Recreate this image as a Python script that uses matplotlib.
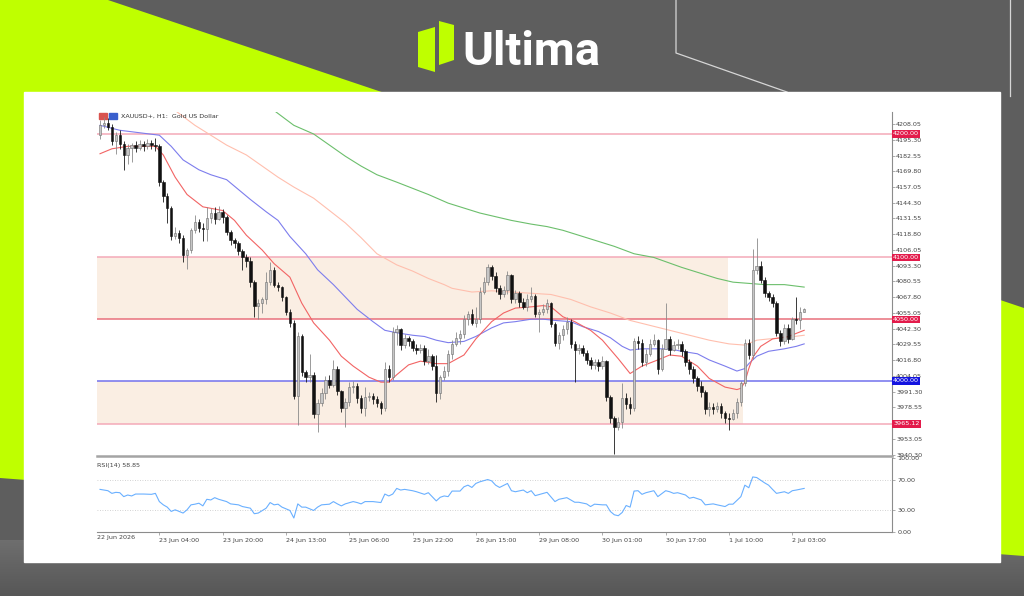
import numpy as np
import matplotlib
matplotlib.use("Agg")
import matplotlib.pyplot as plt
from matplotlib.patches import Polygon, Rectangle
from matplotlib.colors import LinearSegmentedColormap

W, H = 1024, 596

# ---- XAUUSD+ H1 candles ----
first_open = 4199
close = [
    4207, 4209, 4206, 4194, 4199, 4192, 4183, 4189, 4191, 4189,
    4192, 4190, 4193, 4191, 4190, 4161, 4150, 4140, 4117, 4120,
    4116, 4102, 4106, 4122, 4129, 4124, 4123, 4132, 4136, 4131,
    4137, 4133, 4121, 4114, 4112, 4105, 4100, 4097, 4080, 4061,
    4063, 4066, 4080, 4090, 4078, 4076, 4068, 4056, 4047, 3988,
    4036, 4007, 4003, 4005, 3973, 3982, 3990, 4001, 3997, 4010,
    3992, 3978, 3983, 3995, 3996, 3986, 3978, 3987, 3988, 3985,
    3982, 3978, 4010, 4003, 4040, 4042, 4029, 4035, 4032, 4027,
    4025, 4027, 4016, 4020, 4012, 3990, 4003, 4008, 4022, 4030,
    4035, 4038, 4050, 4054, 4047, 4050, 4072, 4080, 4092, 4085,
    4075, 4070, 4074, 4086, 4066, 4071, 4064, 4060, 4066, 4069,
    4054, 4056, 4058, 4063, 4046, 4031, 4037, 4042, 4048, 4030,
    4025, 4027, 4023, 4017, 4013, 4015, 4012, 4016, 3987, 3970,
    3963, 3967, 3986, 3981, 3978, 4032, 4031, 4015, 4022, 4030,
    4033, 4010, 4026, 4034, 4025, 4029, 4030, 4024, 4015, 4010,
    4002, 3996, 3991, 3977, 3979, 3977, 3980, 3974, 3970, 3969,
    3974, 3983, 3998, 4031, 4021, 4090, 4093, 4082, 4071, 4068,
    4063, 4039, 4032, 4043, 4034, 4050, 4049, 4056, 4058,
]
high = [
    4211, 4214, 4213, 4208, 4202, 4203, 4194, 4192, 4193, 4194,
    4195, 4194, 4196, 4195, 4197, 4192, 4163, 4152, 4142, 4125,
    4122, 4118, 4108, 4124, 4134, 4131, 4128, 4141, 4140, 4141,
    4142, 4139, 4134, 4122, 4116, 4113, 4107, 4103, 4100, 4082,
    4066, 4068, 4088, 4096, 4092, 4080, 4077, 4069, 4058, 4049,
    4040, 4038, 4009, 4022, 4007, 3985, 3994, 4004, 4005, 4017,
    4012, 3993, 3986, 3999, 4000, 3998, 3989, 3995, 3991, 3990,
    3988, 3984, 4015, 4013, 4044, 4045, 4043, 4038, 4036, 4034,
    4030, 4030, 4029, 4026, 4022, 4021, 4005, 4012, 4025, 4033,
    4040, 4041, 4053, 4057, 4058, 4060, 4076, 4084, 4095, 4094,
    4088, 4078, 4077, 4089, 4087, 4074, 4073, 4067, 4070, 4076,
    4070, 4058, 4062, 4066, 4064, 4048, 4040, 4045, 4052, 4050,
    4032, 4030, 4029, 4025, 4019, 4018, 4018, 4020, 4017, 3989,
    3972, 3971, 3998, 3990, 3987, 4035, 4036, 4034, 4026, 4034,
    4038, 4034, 4030, 4063, 4036, 4032, 4034, 4032, 4026, 4018,
    4012, 4004, 4000, 3993, 3983, 3982, 3983, 3982, 3976, 3974,
    3977, 3986, 4000, 4034, 4034, 4107, 4116, 4097, 4084, 4073,
    4070, 4065, 4041, 4046, 4046, 4052, 4068, 4060, 4059,
]
low = [
    4196, 4205, 4203, 4191, 4184, 4188, 4171, 4176, 4177, 4185,
    4187, 4186, 4188, 4188, 4186, 4158, 4145, 4128, 4114, 4115,
    4112, 4096, 4091, 4104, 4120, 4121, 4113, 4113, 4128, 4127,
    4130, 4128, 4118, 4110, 4108, 4102, 4090, 4092, 4076, 4052,
    4050, 4055, 4062, 4078, 4076, 4073, 4065, 4053, 4044, 3985,
    3964, 4004, 3999, 3999, 3970, 3959, 3980, 3985, 3994, 3995,
    3989, 3975, 3963, 3980, 3990, 3982, 3974, 3972, 3984, 3981,
    3979, 3973, 3976, 3999, 4001, 4029, 4025, 4027, 4028, 4024,
    4022, 4023, 4013, 4014, 4009, 3983, 3985, 4001, 4004, 4018,
    4028, 4030, 4035, 4045, 4045, 4044, 4047, 4070, 4078, 4082,
    4072, 4066, 4068, 4070, 4063, 4063, 4060, 4058, 4057, 4064,
    4052, 4040, 4053, 4055, 4044, 4028, 4026, 4033, 4038, 4027,
    3999, 4022, 4020, 4014, 4010, 4010, 4008, 4010, 3984, 3966,
    3941, 3960, 3962, 3977, 3973, 3976, 4026, 4012, 4012, 4020,
    4028, 4006, 4008, 4026, 4021, 4024, 4026, 4020, 4012, 4006,
    3998, 3992, 3987, 3973, 3972, 3973, 3975, 3970, 3966, 3960,
    3968, 3970, 3980, 3996, 4018, 4018, 4087, 4079, 4068, 4065,
    4060, 4036, 4028, 4030, 4031, 4033, 4046, 4042, 4056,
]

# moving averages (bar index, price)
ma_red_x = [0, 3, 7, 14, 16, 19, 22, 26, 31, 34, 37, 41, 44, 48, 51, 54, 58, 61, 64, 68,
            71, 73, 75, 78, 81, 85, 88, 92, 95, 99, 102, 105, 109, 112, 114, 117, 120, 124,
            127, 131, 134, 137, 141, 144, 147, 151, 154, 158, 161, 162, 163, 164, 165, 167,
            170, 174, 178]
ma_red_y = [4184, 4188, 4190, 4190, 4183, 4165, 4151, 4141, 4138, 4130, 4118, 4106, 4095, 4084,
            4063, 4047, 4033, 4020, 4012, 4003, 3999, 3999, 4005, 4013, 4016, 4014, 4014, 4021,
            4034, 4048, 4055, 4059, 4060, 4061, 4060, 4052, 4048, 4041, 4033, 4018, 4006, 4012,
            4017, 4021, 4020, 4012, 4002, 3995, 3993, 3994, 3999, 4010, 4019, 4028, 4034, 4036,
            4041]
ma_blue_x = [0, 5, 10, 15, 18, 21, 25, 28, 32, 35, 38, 42, 45, 48, 52, 55, 59, 62, 65, 69, 72,
             75, 79, 82, 85, 88, 92, 95, 99, 102, 105, 109, 112, 115, 119, 122, 126, 129, 132,
             134, 137, 141, 144, 147, 151, 154, 158, 161, 163, 164, 166, 169, 173, 176, 178]
ma_blue_y = [4207, 4203, 4201, 4199, 4190, 4179, 4171, 4167, 4163, 4155, 4147, 4137, 4130, 4117,
             4103, 4090, 4078, 4068, 4058, 4048, 4041, 4039, 4037, 4036, 4033, 4031, 4032, 4036,
             4043, 4047, 4048, 4050, 4050, 4049, 4048, 4044, 4040, 4035, 4028, 4025, 4026, 4026,
             4026, 4024, 4022, 4017, 4012, 4008, 4010, 4014, 4020, 4024, 4026, 4028, 4030]
ma_salmon_x = [19, 24, 28, 32, 37, 41, 45, 49, 54, 58, 62, 66, 70, 75, 79, 83, 87, 89, 94, 99,
               104, 109, 114, 119, 124, 129, 134, 139, 144, 149, 154, 159, 163, 166, 169, 173, 178]
ma_salmon_y = [4219, 4207, 4199, 4191, 4183, 4174, 4165, 4157, 4148, 4138, 4128, 4116, 4103, 4094,
               4089, 4083, 4078, 4075, 4072, 4073, 4072, 4071, 4070, 4066, 4060, 4055, 4049, 4045,
               4041, 4037, 4033, 4030, 4029, 4033, 4034, 4035, 4037]
ma_green_x = [44, 49, 54, 58, 62, 66, 70, 75, 79, 83, 88, 92, 96, 100, 104, 109, 113, 117, 121,
              126, 130, 135, 140, 147, 152, 156, 160, 164, 168, 173, 178]
ma_green_y = [4219, 4207, 4200, 4191, 4182, 4174, 4167, 4161, 4156, 4151, 4144, 4140, 4136, 4133,
              4130, 4127, 4125, 4122, 4118, 4113, 4109, 4103, 4100, 4092, 4087, 4083, 4080, 4079,
              4078, 4078, 4076]

# RSI(14)
rsi_x = [0, 1, 2, 3, 4, 5, 6, 7, 8, 9, 11, 13, 14, 15, 16, 17, 18, 19, 20, 21, 22, 23, 24, 25,
         26, 27, 28, 29, 30, 32, 33, 35, 36, 38, 39, 40, 42, 43, 44, 45, 46, 48, 49, 50, 51, 52,
         54, 55, 56, 58, 59, 60, 61, 62, 64, 65, 66, 67, 69, 71, 72, 73, 74, 75, 76, 77, 79, 80,
         82, 83, 85, 86, 87, 88, 89, 91, 92, 93, 94, 95, 96, 98, 99, 100, 101, 103, 104, 105,
         107, 108, 109, 110, 112, 113, 115, 116, 118, 120, 121, 123, 124, 125, 127, 128, 129,
         130, 131, 132, 133, 134, 135, 136, 137, 138, 140, 141, 143, 144, 145, 146, 148, 149,
         150, 152, 153, 155, 156, 158, 159, 160, 162, 163, 164, 165, 166, 168, 169, 170, 171,
         173, 174, 175, 176, 178]
rsi_y = [57.6, 56.7, 55.8, 52.2, 53.6, 53.1, 47.8, 50.0, 48.7, 51.3, 51.3, 50.9, 52.2, 41.1,
         36.7, 33.6, 27.8, 30.0, 27.8, 25.6, 30.0, 36.7, 37.6, 38.9, 35.3, 44.2, 43.3, 46.4,
         44.2, 41.1, 38.0, 36.7, 34.4, 32.2, 24.7, 25.6, 32.2, 39.8, 36.7, 37.6, 33.6, 29.1,
         18.9, 38.0, 33.6, 33.6, 29.1, 33.6, 36.7, 37.6, 41.1, 38.0, 35.3, 38.0, 41.1, 39.8,
         38.0, 41.1, 41.1, 39.8, 51.3, 48.7, 51.3, 58.9, 56.7, 57.6, 55.8, 54.4, 50.9, 53.1,
         42.0, 46.9, 48.7, 47.8, 55.3, 55.3, 61.1, 63.3, 60.2, 65.6, 67.8, 70.9, 69.1, 63.3,
         60.2, 65.6, 55.8, 54.4, 56.7, 53.1, 55.8, 49.1, 52.2, 53.6, 41.1, 44.2, 46.4, 40.2,
         40.2, 38.0, 34.4, 37.6, 36.7, 36.7, 27.8, 23.3, 22.0, 26.4, 35.8, 33.6, 55.3, 55.8,
         50.9, 53.1, 55.8, 47.8, 55.8, 54.4, 52.2, 53.1, 50.0, 45.6, 46.9, 43.3, 36.7, 38.0,
         36.7, 34.4, 37.6, 37.6, 47.8, 63.3, 59.8, 74.4, 73.6, 66.4, 63.3, 57.6, 52.2, 54.4,
         52.2, 55.8, 56.7, 58.9]

levels = [4200.00, 4100.00, 4050.00, 4000.00, 3965.12]
zones = [(4050.00, 4100.00, 158.7), (3965.12, 4000.00, 162.5)]   # low, high, right end (bar)
price_ticks = [4208.05 - 12.75 * k for k in range(22)]
date_bars = [15, 31, 47, 63, 79, 95, 111, 127, 143, 159, 175]
date_labels = ["23 Jun 04:00", "23 Jun 20:00", "24 Jun 13:00", "25 Jun 06:00", "25 Jun 22:00",
               "26 Jun 15:00", "29 Jun 08:00", "30 Jun 01:00", "30 Jun 17:00", "1 Jul 10:00",
               "2 Jul 03:00"]


def box(l, t, r, b):
    return [l / W, 1 - b / H, (r - l) / W, (b - t) / H]


fig = plt.figure(figsize=(W / 100, H / 100), dpi=100)

# ---- banner background ----
bg = fig.add_axes([0, 0, 1, 1])
bg.set_xlim(0, W)
bg.set_ylim(H, 0)
bg.axis("off")
bg.add_patch(Rectangle((0, 0), W, H, color="#5e5e5e", zorder=0))
shade = LinearSegmentedColormap.from_list("shade", ["#6e6e6e", "#575757"])
bg.imshow(np.linspace(0, 1, 40).reshape(-1, 1), extent=(0, W, H, 540), cmap=shade,
          aspect="auto", zorder=0.5)
bg.add_patch(Polygon([(0, 0), (108, 0), (1024, 308), (1024, 556), (0, 478)],
                     closed=True, color="#bfff00", lw=0, zorder=1))
bg.plot([676, 676, 787], [0, 53, 92], color="#d6d6d6", lw=0.9, zorder=2)
bg.plot([1010, 1010], [0, 96], color="#d6d6d6", lw=0.9, zorder=2)
bg.add_patch(Rectangle((24, 92), 976, 470, color="white", zorder=3))

# logo
bg.add_patch(Polygon([(418, 32), (435, 27), (435, 72), (418, 67)], closed=True,
                     color="#bfff00", lw=0, zorder=4))
bg.add_patch(Polygon([(439, 21), (454, 25), (454, 60), (439, 65)], closed=True,
                     color="#bfff00", lw=0, zorder=4))
bg.text(462, 65, "Ultima", color="white", fontsize=34, fontweight="bold",
        family="Roboto", ha="left", va="baseline", zorder=4)

# ---- price panel ----
ax = fig.add_axes(box(97, 112, 892, 456))
ax.set_xlim(-0.76, 200.2)
ax.set_ylim(3939.2, 4217.8)
ax.set_facecolor("none")

x = np.arange(len(close))
c = np.array(close, dtype=float)
o = np.r_[first_open, c[:-1]]
hi = np.maximum(np.array(high, dtype=float), np.maximum(o, c))
lo = np.minimum(np.array(low, dtype=float), np.minimum(o, c))
up = c >= o

for lv_low, lv_high, x_end in zones:
    ax.fill_between([-0.76, x_end], lv_low, lv_high, color="#faeee3", lw=0, zorder=1)

level_cols = ["#f4a9b8", "#f4a9b8", "#e8707c", "#7272ee", "#f4a9b8"]
label_cols = ["#e31b4b", "#e31b4b", "#e31b4b", "#1414e0", "#e31b4b"]
for lv, lc in zip(levels, level_cols):
    ax.axhline(lv, color=lc, lw=1.1, zorder=1.5)

ax.plot(ma_green_x, ma_green_y, color="#6cbf6c", lw=0.8, zorder=2)
ax.plot(ma_salmon_x, ma_salmon_y, color="#ffbfae", lw=0.8, zorder=2)
ax.plot(ma_blue_x, ma_blue_y, color="#7d7ded", lw=0.8, zorder=2)
ax.plot(ma_red_x, ma_red_y, color="#f26464", lw=0.8, zorder=2)

ax.vlines(x[up], lo[up], hi[up], color="#8a8a8a", lw=0.6, zorder=3)
ax.vlines(x[~up], lo[~up], hi[~up], color="#1a1a1a", lw=0.6, zorder=3)
body_lo = np.minimum(o, c)
body_h = np.maximum(np.abs(c - o), 0.7)
ax.bar(x[up], body_h[up], bottom=body_lo[up], width=0.62, color="#c6c6c6",
       edgecolor="#6e6e6e", lw=0.4, zorder=4)
ax.bar(x[~up], body_h[~up], bottom=body_lo[~up], width=0.62, color="#111111",
       edgecolor="#111111", lw=0.4, zorder=4)

for s in ["left", "top"]:
    ax.spines[s].set_visible(False)
ax.spines["right"].set_color("#8c8c8c")
ax.spines["right"].set_linewidth(0.8)
ax.spines["bottom"].set_color("#a4a4a4")
ax.spines["bottom"].set_linewidth(1.8)
ax.set_xticks([])
ax.yaxis.tick_right()
ax.set_yticks(price_ticks)
# the 3965.80 label sits fully under the 3965.12 marker box, so leave it blank
tick_text = [f"{v:.2f}" for v in price_ticks]
tick_text[19] = ""
ax.set_yticklabels(tick_text)
ax.tick_params(axis="y", direction="out", length=2, width=0.5, pad=1,
               labelsize=4.6, colors="#8c8c8c", labelcolor="#444444")

ytr = ax.get_yaxis_transform()
for lv, bc in zip(levels, label_cols):
    ax.text(1.0015, lv, f"{lv:.2f}", transform=ytr, ha="left", va="center", fontsize=4.6,
            color="white", clip_on=False, zorder=10,
            bbox=dict(boxstyle="square,pad=0.18", fc=bc, ec="none"))

fig.text(121 / W, 1 - 116 / H, "XAUUSD+, H1:  Gold US Dollar", fontsize=4.6,
         color="#333333", va="center", ha="left")
bg.add_patch(Rectangle((99, 113), 8, 6, color="#d9534f", zorder=5))
bg.add_patch(Rectangle((109, 113), 8, 6, color="#3a5fcd", zorder=5))

# ---- RSI panel ----
ax2 = fig.add_axes(box(97, 458, 892, 532))
ax2.set_xlim(-0.76, 200.2)
ax2.set_ylim(0, 100)
ax2.set_facecolor("none")
for lvl in (70, 30):
    ax2.axhline(lvl, color="#c4c4c4", lw=0.6, ls=(0, (1, 2)))
ax2.plot(rsi_x, rsi_y, color="#6ab0ff", lw=0.8)
for s in ["left", "top"]:
    ax2.spines[s].set_visible(False)
for s in ["right", "bottom"]:
    ax2.spines[s].set_color("#8c8c8c")
    ax2.spines[s].set_linewidth(0.8)
ax2.yaxis.tick_right()
ax2.set_yticks([0, 30, 70, 100])
ax2.set_yticklabels(["0.00", "30.00", "70.00", "100.00"])
ax2.set_xticks(date_bars)
ax2.set_xticklabels(date_labels, ha="left")
ax2.tick_params(direction="out", length=2.5, width=0.5, pad=1.5, labelsize=4.6,
                colors="#8c8c8c", labelcolor="#444444")
ax2.text(-0.76, -4, "22 Jun 2026", ha="left", va="top", fontsize=4.6, color="#444444",
         clip_on=False)
ax2.text(0.0, 0.93, "RSI(14) 58.85", transform=ax2.transAxes, ha="left", va="top",
         fontsize=4.6, color="#444444")

fig.savefig("out.png", dpi=100)
